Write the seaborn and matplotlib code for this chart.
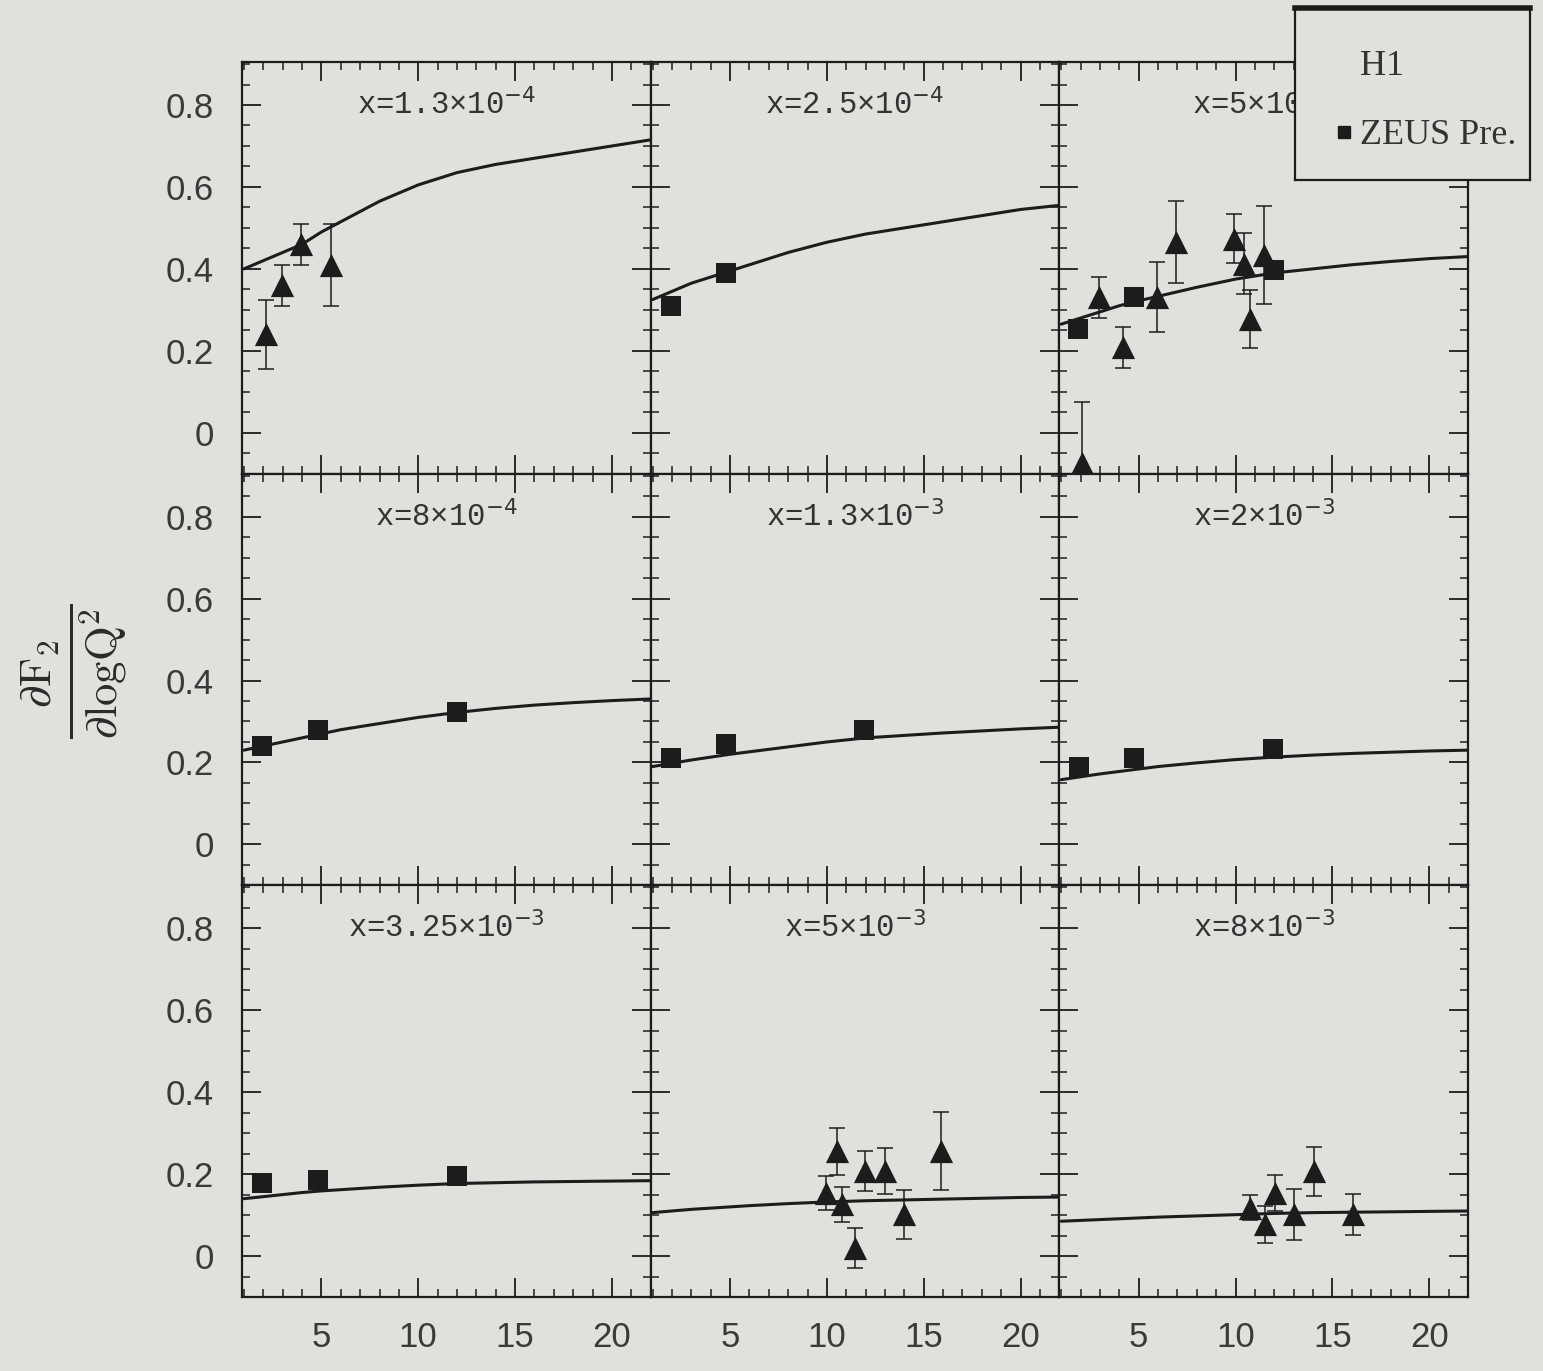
import numpy as np
import pandas as pd
import matplotlib
matplotlib.use('Agg')
import matplotlib.pyplot as plt
from matplotlib.lines import Line2D
from matplotlib.ticker import MultipleLocator, FuncFormatter
import seaborn as sns

# --- DATA ---
panel_titles = [r'x=1.3×10$^{-4}$', r'x=2.5×10$^{-4}$', r'x=5×10$^{-4}$',
                r'x=8×10$^{-4}$', r'x=1.3×10$^{-3}$', r'x=2×10$^{-3}$',
                r'x=3.25×10$^{-3}$', r'x=5×10$^{-3}$', r'x=8×10$^{-3}$']

# theory curve, sampled in Q2
curve_q2 = [1, 2, 3, 4, 5, 6, 8, 10, 12, 14, 16, 18, 20, 22]
curve_1 = [0.40, 0.42, 0.44, 0.46, 0.49, 0.515, 0.565, 0.605, 0.635, 0.655, 0.67, 0.685, 0.70, 0.715]
curve_2 = [0.325, 0.345, 0.365, 0.38, 0.395, 0.41, 0.44, 0.465, 0.485, 0.50, 0.515, 0.53, 0.545, 0.555]
curve_3 = [0.265, 0.28, 0.295, 0.31, 0.322, 0.333, 0.355, 0.375, 0.39, 0.40, 0.41, 0.418, 0.425, 0.43]
curve_4 = [0.23, 0.24, 0.25, 0.26, 0.27, 0.28, 0.295, 0.31, 0.322, 0.332, 0.34, 0.346, 0.351, 0.355]
curve_5 = [0.19, 0.198, 0.206, 0.213, 0.22, 0.226, 0.238, 0.25, 0.26, 0.266, 0.272, 0.277, 0.282, 0.286]
curve_6 = [0.158, 0.165, 0.172, 0.178, 0.184, 0.19, 0.199, 0.207, 0.213, 0.218, 0.222, 0.225, 0.228, 0.23]
curve_7 = [0.14, 0.145, 0.15, 0.155, 0.159, 0.162, 0.168, 0.173, 0.177, 0.179, 0.181, 0.182, 0.183, 0.184]
curve_8 = [0.106, 0.11, 0.114, 0.117, 0.12, 0.123, 0.128, 0.132, 0.135, 0.137, 0.139, 0.141, 0.143, 0.144]
curve_9 = [0.085, 0.087, 0.089, 0.091, 0.093, 0.095, 0.098, 0.101, 0.104, 0.106, 0.107, 0.108, 0.109, 0.11]

# ZEUS preliminary (squares), per panel
zeus_q2 = {2: [1.94, 4.8], 3: [1.87, 4.75, 12.0], 4: [1.91, 4.8, 12.0],
           5: [1.94, 4.8, 11.94], 6: [1.9, 4.75, 11.95], 7: [1.91, 4.8, 12.0]}
zeus_val = {2: [0.31, 0.39], 3: [0.254, 0.331, 0.396], 4: [0.241, 0.28, 0.324],
            5: [0.212, 0.244, 0.28], 6: [0.188, 0.212, 0.234], 7: [0.178, 0.185, 0.195]}

# H1 (triangles with errors), per panel
h1_q2_1 = [2.15, 2.97, 3.95, 5.5]
h1_val_1 = [0.24, 0.36, 0.46, 0.41]
h1_err_1 = [0.085, 0.05, 0.05, 0.10]

h1_q2_3 = [2.09, 2.97, 4.19, 5.96, 6.91, 9.91, 10.45, 10.75, 11.48]
h1_val_3 = [-0.073, 0.331, 0.209, 0.331, 0.466, 0.474, 0.413, 0.278, 0.433]
h1_err_3 = [0.147, 0.05, 0.05, 0.085, 0.10, 0.06, 0.075, 0.07, 0.12]

h1_q2_8 = [9.96, 10.5, 10.77, 11.44, 11.98, 12.98, 14.0, 15.9]
h1_val_8 = [0.154, 0.256, 0.126, 0.02, 0.207, 0.207, 0.102, 0.256]
h1_err_8 = [0.042, 0.057, 0.042, 0.049, 0.049, 0.056, 0.06, 0.095]

h1_q2_9 = [10.76, 11.51, 12.02, 13.04, 14.04, 16.08]
h1_val_9 = [0.118, 0.077, 0.154, 0.102, 0.207, 0.102]
h1_err_9 = [0.03, 0.045, 0.045, 0.062, 0.06, 0.05]

curves = [curve_1, curve_2, curve_3, curve_4, curve_5, curve_6, curve_7, curve_8, curve_9]
h1_sets = {1: (h1_q2_1, h1_val_1, h1_err_1), 3: (h1_q2_3, h1_val_3, h1_err_3),
           8: (h1_q2_8, h1_val_8, h1_err_8), 9: (h1_q2_9, h1_val_9, h1_err_9)}

BG = '#dfe1dd'
INK = '#1c1c1c'


def make_plot():
    sns.set_style("ticks", {'axes.facecolor': BG, 'figure.facecolor': BG,
                            'axes.edgecolor': INK})
    plt.rcParams['font.family'] = ['Liberation Sans', 'DejaVu Sans']
    plt.rcParams['mathtext.fontset'] = 'cm'

    fig, axes = plt.subplots(3, 3, figsize=(15.43, 13.71), dpi=100,
                             sharex=True, sharey=True)
    fig.subplots_adjust(left=242 / 1543, right=1468 / 1543,
                        top=1 - 62 / 1371, bottom=1 - 1297 / 1371,
                        wspace=0, hspace=0)

    for i, ax in enumerate(axes.flat):
        k = i + 1
        # 1. theory curve
        cdf = pd.DataFrame({'q2': curve_q2, 'val': curves[i]})
        sns.lineplot(data=cdf, x='q2', y='val', ax=ax, color=INK, lw=2.2)

        # 2. ZEUS squares
        if k in zeus_q2:
            zdf = pd.DataFrame({'q2': zeus_q2[k], 'val': zeus_val[k]})
            sns.scatterplot(data=zdf, x='q2', y='val', ax=ax, marker='s',
                            s=190, color=INK, edgecolor=INK, linewidth=0, zorder=4)

        # 3. H1 triangles with error bars
        if k in h1_sets:
            q, v, e = h1_sets[k]
            ax.errorbar(q, v, yerr=e, fmt='none', ecolor=INK, elinewidth=1.1,
                        capsize=6, capthick=1.1, zorder=3)
            hdf = pd.DataFrame({'q2': q, 'val': v})
            sns.scatterplot(data=hdf, x='q2', y='val', ax=ax, marker='^',
                            s=280, color=INK, edgecolor=INK, linewidth=0, zorder=5)

        ax.text(0.5, 0.895, panel_titles[i], transform=ax.transAxes,
                ha='center', va='center', fontsize=22, color='#333333',
                family=['Liberation Mono', 'DejaVu Sans Mono'],
                math_fontfamily='dejavusans')

        ax.set_xlim(0.9, 22)
        ax.set_ylim(-0.1, 0.905)
        ax.set_xlabel('')
        ax.set_ylabel('')
        ax.xaxis.set_major_locator(MultipleLocator(5))
        ax.xaxis.set_minor_locator(MultipleLocator(1))
        ax.yaxis.set_major_locator(MultipleLocator(0.2))
        ax.yaxis.set_minor_locator(MultipleLocator(0.05))
        ax.yaxis.set_major_formatter(FuncFormatter(lambda v, p: '0' if abs(v) < 1e-9 else f'{v:.1f}'))
        ax.tick_params(which='both', direction='in', top=True, right=True,
                       colors=INK, labelcolor='#3a3a3a', labelsize=25)
        ax.tick_params(which='major', length=14, width=1.3)
        ax.tick_params(which='minor', length=6, width=1.1)
        ax.tick_params(axis='y', pad=20)
        ax.tick_params(axis='x', pad=17)
        for sp in ax.spines.values():
            sp.set_linewidth(1.6)

    # y label
    fig.text(0.048, 0.51, r'$\frac{\partial\mathrm{F}_2}{\partial\mathrm{log}\mathrm{Q}^2}$',
             rotation=90, ha='center', va='center', fontsize=46, color='#2a2a2a')

    # 4. Legend box overlapping the top right corner
    lax = fig.add_axes([1295 / 1543, 1 - 180 / 1371, 235 / 1543, 172 / 1371])
    lax.set_facecolor(BG)
    lax.set_xticks([])
    lax.set_yticks([])
    for sp in lax.spines.values():
        sp.set_linewidth(1.6)
        sp.set_color(INK)
    lax.spines['top'].set_linewidth(4)
    handles = [Line2D([], [], ls='none'),
               Line2D([], [], ls='none', marker='s', color=INK, ms=9)]
    lax.legend(handles, ['H1', 'ZEUS Pre.'], loc='center left', frameon=False,
               bbox_to_anchor=(0.03, 0.46),
               handlelength=0.5, handletextpad=0.2, labelspacing=1.0,
               prop={'family': 'Liberation Serif', 'size': 26}, labelcolor='#333333')

    plt.savefig('out.png', dpi=100, facecolor=BG)
    plt.close()


if __name__ == "__main__":
    make_plot()
